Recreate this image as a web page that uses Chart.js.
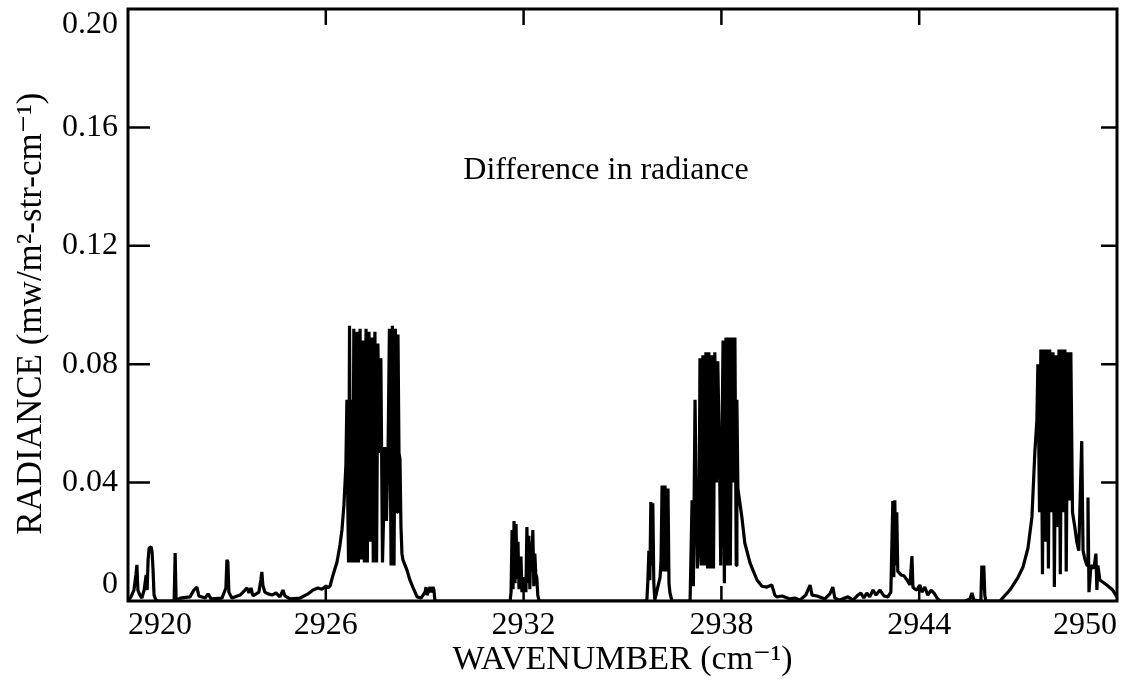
<!DOCTYPE html>
<html>
<head>
<meta charset="utf-8">
<script src="https://cdn.jsdelivr.net/npm/chart.js@4"></script>
<style>
    html, body { margin: 0; padding: 0; background: #fff; }
    #contenedor { width: 1130px; height: 700px; position: relative; }
</style>
</head>
<body>
<div id="contenedor"><canvas id="grafico"></canvas></div>
<script>
// Ejes
const X_MIN = 2920, X_MAX = 2950;
const Y_MIN = 0, Y_MAX = 0.2;
const xTickLabels = ['2920', '2926', '2932', '2938', '2944', '2950'];
const yTickLabels = ['0', '0.04', '0.08', '0.12', '0.16', '0.20'];

// Texto dentro del gráfico
const NOTA = 'Difference in radiance';
const NOTA_X = 2934.5, NOTA_Y = 0.1455;

// Espectro: [número de onda, radiancia]
const tramo2920 = [
    [2920.00, 0], [2920.09, 0.0014], [2920.18, 0.0037], [2920.24, 0.0088], [2920.27, 0.0122], [2920.30, 0.0037],
    [2920.36, 0.002], [2920.42, 0.001], [2920.49, 0.0037], [2920.55, 0.0088], [2920.58, 0.0037], [2920.61, 0.0139],
    [2920.64, 0.0179], [2920.70, 0.0183], [2920.73, 0.0166], [2920.76, 0.0105], [2920.79, 0.002], [2920.85, 0.0003],
    [2920.91, 0], [2921.40, 0], [2921.43, 0.0162], [2921.46, 0], [2921.58, 0.001], [2921.88, 0.0014],
    [2922.00, 0.0037], [2922.09, 0.0047], [2922.15, 0.0017], [2922.34, 0.001], [2922.43, 0.0024], [2922.52, 0.0007],
    [2922.85, 0.001], [2922.97, 0.0044], [2923.00, 0.0139], [2923.03, 0.0132], [2923.06, 0.003], [2923.15, 0.001],
    [2923.40, 0.002], [2923.55, 0.0037], [2923.61, 0.0044], [2923.67, 0.0027], [2923.73, 0.0044], [2923.79, 0.0017],
    [2923.97, 0.003], [2924.03, 0.0071], [2924.06, 0.0098], [2924.09, 0.0054], [2924.15, 0.003], [2924.25, 0.0024],
    [2924.37, 0.002], [2924.49, 0.0027], [2924.61, 0.0014], [2924.70, 0.0037], [2924.76, 0.0017], [2924.91, 0.0007],
    [2925.22, 0.001], [2925.46, 0.0024], [2925.61, 0.0037], [2925.76, 0.0044], [2925.88, 0.004], [2926.01, 0.0051],
    [2926.07, 0.0044]
];

const banda2927 = [
    [2926.13, 0.0051], [2926.22, 0.0088], [2926.34, 0.0132], [2926.43, 0.0189], [2926.49, 0.024], [2926.55, 0.0324],
    [2926.61, 0.046], [2926.64, 0.068], [2926.67, 0.03], [2926.69, 0.013], [2926.72, 0.093], [2926.75, 0.013],
    [2926.79, 0.068], [2926.82, 0.013], [2926.85, 0.092], [2926.90, 0.013], [2926.95, 0.091], [2926.99, 0.013],
    [2927.04, 0.092], [2927.08, 0.014], [2927.13, 0.088], [2927.17, 0.013], [2927.22, 0.092], [2927.26, 0.013],
    [2927.31, 0.091], [2927.35, 0.02], [2927.40, 0.089], [2927.44, 0.013], [2927.49, 0.091], [2927.54, 0.013],
    [2927.58, 0.087], [2927.63, 0.05], [2927.67, 0.082], [2927.72, 0.013], [2927.75, 0.027], [2927.79, 0.052],
    [2927.84, 0.027], [2927.89, 0.052], [2927.93, 0.092], [2927.98, 0.012], [2928.02, 0.093], [2928.07, 0.012],
    [2928.11, 0.092], [2928.16, 0.03], [2928.19, 0.09], [2928.22, 0.05], [2928.25, 0.048], [2928.28, 0.025],
    [2928.31, 0.016], [2928.34, 0.0139], [2928.46, 0.0105], [2928.55, 0.0071], [2928.64, 0.0047], [2928.77, 0.0014],
    [2928.89, 0.001], [2929.01, 0.003], [2929.04, 0.0047], [2929.07, 0.002], [2929.13, 0.0037], [2929.16, 0.0047],
    [2929.19, 0.003], [2929.25, 0.0047], [2929.28, 0.0037], [2929.31, 0], [2929.37, 0]
];

const banda2932 = [
    [2931.59, 0], [2931.62, 0.003], [2931.65, 0.024], [2931.68, 0.004], [2931.71, 0.027], [2931.74, 0.006],
    [2931.77, 0.026], [2931.80, 0.008], [2931.83, 0.02], [2931.86, 0.004], [2931.92, 0.015], [2931.95, 0.003],
    [2932.01, 0.008], [2932.07, 0.003], [2932.10, 0.025], [2932.13, 0.006], [2932.16, 0.022], [2932.19, 0.004],
    [2932.22, 0.02], [2932.25, 0.01], [2932.28, 0.024], [2932.31, 0.005], [2932.34, 0.016], [2932.37, 0.009],
    [2932.40, 0.008], [2932.43, 0.002], [2932.47, 0]
];

const banda2938 = [
    [2935.68, 0], [2935.74, 0.0003], [2935.77, 0.007], [2935.80, 0.017], [2935.83, 0.007], [2935.86, 0.0334],
    [2935.89, 0.012], [2935.92, 0.033], [2935.95, 0.006], [2935.98, 0.0003], [2936.07, 0.0047], [2936.14, 0.008],
    [2936.17, 0.014], [2936.20, 0.039], [2936.24, 0.01], [2936.29, 0.039], [2936.33, 0.01], [2936.38, 0.038],
    [2936.41, 0.006], [2936.44, 0.0027], [2936.50, 0], [2937.05, 0], [2937.11, 0.034], [2937.15, 0.005],
    [2937.20, 0.068], [2937.24, 0.034], [2937.27, 0.011], [2937.32, 0.02], [2937.35, 0.082], [2937.39, 0.012],
    [2937.44, 0.083], [2937.48, 0.012], [2937.53, 0.084], [2937.58, 0.011], [2937.62, 0.084], [2937.67, 0.011],
    [2937.71, 0.083], [2937.76, 0.011], [2937.80, 0.084], [2937.85, 0.04], [2937.89, 0.081], [2937.94, 0.05],
    [2937.98, 0.012], [2938.05, 0.088], [2938.09, 0.006], [2938.14, 0.089], [2938.18, 0.012], [2938.23, 0.089],
    [2938.27, 0.012], [2938.32, 0.089], [2938.36, 0.04], [2938.41, 0.089], [2938.45, 0.012], [2938.47, 0.068],
    [2938.50, 0.038], [2938.62, 0.0284], [2938.71, 0.0196], [2938.87, 0.0128], [2939.08, 0.0071], [2939.23, 0.005],
    [2939.38, 0.0047], [2939.53, 0.0054], [2939.62, 0.002], [2939.68, 0.0014], [2939.84, 0.0017], [2940.08, 0.0007]
];

const tramo2944 = [
    [2940.23, 0.001], [2940.38, 0.0003], [2940.56, 0.002], [2940.69, 0.0054], [2940.75, 0.002], [2940.90, 0.0017],
    [2941.14, 0.0007], [2941.29, 0.0024], [2941.38, 0.0047], [2941.44, 0.001], [2941.59, 0.0003], [2941.84, 0.0014],
    [2941.99, 0.0003], [2942.14, 0.002], [2942.23, 0.0027], [2942.32, 0.001], [2942.41, 0.0027], [2942.50, 0.0014],
    [2942.60, 0.0037], [2942.69, 0.002], [2942.81, 0.0037], [2942.93, 0.0017], [2943.05, 0.0014], [2943.14, 0.003],
    [2943.20, 0.0338], [2943.23, 0.008], [2943.26, 0.034], [2943.29, 0.012], [2943.32, 0.03], [2943.35, 0.01],
    [2943.45, 0.0088], [2943.54, 0.0085], [2943.63, 0.0071], [2943.72, 0.0054], [2943.78, 0.0152], [2943.81, 0.0047],
    [2943.87, 0.004], [2943.93, 0.0037], [2944.02, 0.0054], [2944.08, 0.003], [2944.17, 0.0047], [2944.26, 0.002],
    [2944.36, 0.0037], [2944.45, 0.0027], [2944.54, 0.001], [2944.63, 0], [2945.39, 0], [2945.54, 0.0007],
    [2945.60, 0.0027], [2945.66, 0.0003], [2945.87, 0], [2945.90, 0.012], [2945.93, 0.004], [2945.96, 0.012],
    [2945.99, 0.002], [2946.02, 0], [2946.45, 0]
];

const banda2948 = [
    [2946.75, 0.0037], [2946.99, 0.0078], [2947.15, 0.0115], [2947.30, 0.0179], [2947.42, 0.0284], [2947.51, 0.0507],
    [2947.57, 0.061], [2947.60, 0.08], [2947.65, 0.03], [2947.69, 0.085], [2947.74, 0.009], [2947.78, 0.085],
    [2947.83, 0.02], [2947.87, 0.085], [2947.92, 0.011], [2947.96, 0.085], [2948.01, 0.03], [2948.06, 0.084],
    [2948.10, 0.0047], [2948.15, 0.083], [2948.19, 0.025], [2948.24, 0.085], [2948.28, 0.009], [2948.33, 0.085],
    [2948.37, 0.03], [2948.42, 0.085], [2948.46, 0.01], [2948.51, 0.084], [2948.55, 0.034], [2948.60, 0.084],
    [2948.65, 0.03], [2948.72, 0.025], [2948.78, 0.02], [2948.84, 0.017], [2948.93, 0.054], [2948.97, 0.017],
    [2949.03, 0.014], [2949.09, 0.012], [2949.12, 0.035], [2949.15, 0.003], [2949.21, 0.012], [2949.30, 0.011],
    [2949.36, 0.016], [2949.39, 0.0037], [2949.42, 0.012], [2949.48, 0.0071], [2949.69, 0.0054], [2949.87, 0.0037],
    [2950.00, 0.0014]
];

const espectro = [].concat(tramo2920, banda2927, banda2932, banda2938, tramo2944, banda2948)
    .map(([x, y]) => ({ x: x, y: y }));

const FUENTE = '"Liberation Serif", "DejaVu Serif", serif';

// Marco, marcas hacia dentro y leyenda del gráfico
const marcoPlugin = {
    id: 'marco',
    afterDatasetsDraw(chart) {
        const { ctx, chartArea: a, scales: { x, y } } = chart;
        ctx.save();
        ctx.strokeStyle = '#000';
        ctx.lineWidth = 3;
        ctx.strokeRect(a.left, a.top, a.right - a.left, a.bottom - a.top);

        ctx.lineWidth = 2.5;
        ctx.beginPath();
        y.ticks.forEach(t => {
            if (Math.abs(t.value - Y_MIN) < 1e-9 || Math.abs(t.value - Y_MAX) < 1e-9) return;
            const py = y.getPixelForValue(t.value);
            ctx.moveTo(a.left, py); ctx.lineTo(a.left + 22, py);
            ctx.moveTo(a.right - 16, py); ctx.lineTo(a.right, py);
        });
        x.ticks.forEach(t => {
            if (t.value <= X_MIN || t.value >= X_MAX) return;
            const px = x.getPixelForValue(t.value);
            ctx.moveTo(px, a.top); ctx.lineTo(px, a.top + 16);
            ctx.moveTo(px, a.bottom - 15); ctx.lineTo(px, a.bottom);
        });
        ctx.stroke();

        ctx.font = '32px ' + FUENTE;
        ctx.fillStyle = '#000';
        ctx.textAlign = 'center';
        ctx.textBaseline = 'middle';
        ctx.fillText(NOTA, x.getPixelForValue(NOTA_X), y.getPixelForValue(NOTA_Y));
        ctx.restore();
    }
};

new Chart(document.getElementById('grafico'), {
    type: 'line',
    data: {
        datasets: [{
            label: 'Difference in radiance',
            data: espectro,
            borderColor: '#000',
            borderWidth: 3.2,
            borderJoinStyle: 'bevel',
            pointRadius: 0,
            tension: 0,
            fill: false
        }]
    },
    options: {
        responsive: true,
        maintainAspectRatio: false,
        animation: false,
        devicePixelRatio: 1,
        layout: { padding: { top: 9, right: 13, left: 0, bottom: 0 } },
        plugins: {
            legend: { display: false },
            title: { display: false },
            tooltip: { enabled: false }
        },
        scales: {
            x: {
                type: 'linear',
                min: X_MIN,
                max: X_MAX,
                grid: { display: false, drawTicks: false },
                border: { display: false },
                ticks: {
                    stepSize: 6,
                    align: 'inner',
                    padding: 7,
                    maxRotation: 0,
                    autoSkip: false,
                    color: '#000',
                    font: { family: FUENTE, size: 32, lineHeight: 1.1 },
                    callback: (v, i) => xTickLabels[i]
                },
                title: {
                    display: true,
                    text: 'WAVENUMBER (cm⁻¹)',
                    color: '#000',
                    font: { family: FUENTE, size: 34 },
                    padding: { top: 0, bottom: 20 }
                },
                afterFit: s => { s.height = 99; s.paddingLeft = 0; s.paddingRight = 0; }
            },
            y: {
                min: Y_MIN,
                max: Y_MAX,
                grid: { display: false, drawTicks: false },
                border: { display: false },
                ticks: {
                    stepSize: 0.04,
                    padding: 10,
                    color: '#000',
                    font: { family: FUENTE, size: 32, lineHeight: 1.0 },
                    callback: (v, i) => {
                        if (i === 0) return [yTickLabels[0], ''];
                        if (i === yTickLabels.length - 1) return ['', yTickLabels[i]];
                        return yTickLabels[i];
                    }
                },
                title: {
                    display: true,
                    text: 'RADIANCE (mw/m²-str-cm⁻¹)  ',
                    color: '#000',
                    font: { family: FUENTE, size: 35 },
                    padding: { top: 11, bottom: 0 }
                },
                afterFit: s => { s.width = 128; s.paddingTop = 0; s.paddingBottom = 0; }
            }
        }
    },
    plugins: [marcoPlugin]
});
</script>
</body>
</html>
